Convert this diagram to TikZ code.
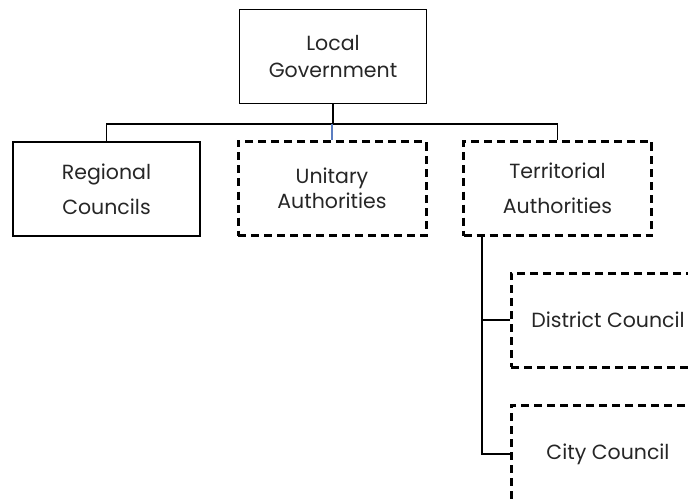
\documentclass[tikz,border=0pt]{standalone}
\usepackage{fontspec}
\setmainfont{Poppins}
\definecolor{txt}{HTML}{262626}
\definecolor{blueline}{HTML}{5B7DC0}
\tikzset{
  solidbox/.style={draw=black, line width=1.6pt, minimum width=187pt, minimum height=94pt, inner sep=0pt, align=center, text=txt},
  dashbox/.style={draw=black, line width=3pt, dash pattern=on 8pt off 5pt, minimum width=188pt, minimum height=94pt, inner sep=0pt, align=center, text=txt},
  conn/.style={draw=black, line width=1.3pt},
}
\begin{document}
\begin{tikzpicture}[x=1pt,y=-1pt]
\useasboundingbox (0,0) rectangle (688,500);
\clip (0,0) rectangle (688,500);
\node[solidbox, font=\fontsize{20.5}{27}\selectfont] (LG) at (333,56.5) {Local\\Government};
\node[solidbox, font=\fontsize{20.5}{35}\selectfont] (RC) at (106.5,189) {Regional\\Councils};
\node[dashbox, font=\fontsize{20.5}{25}\selectfont] (UA) at (332,188.5) {Unitary\\Authorities};
\node[dashbox, font=\fontsize{20.5}{35}\selectfont] (TA) at (557.5,188.5) {Territorial\\Authorities};
\node[dashbox, minimum width=194pt, font=\fontsize{20.5}{25}\selectfont] (DC) at (608,320) {District Council};
\node[dashbox, minimum width=194pt, minimum height=98pt, font=\fontsize{20.5}{25}\selectfont] (CC) at (608,454) {City Council};
\coordinate (bus) at (0,124);
\draw[conn, line width=2.4pt] (LG.south) -- (LG.south |- bus);
\draw[conn] (RC.north) -- (RC.north |- bus) -- (TA.north |- bus) -- (TA.north);
\draw[blueline, line width=1.3pt] (UA.north |- bus) -- (UA.north);
\coordinate (tv) at ([xshift=20pt]TA.south west);
\draw[conn] (tv) |- (DC.west);
\draw[conn] (tv) |- (CC.west);
\end{tikzpicture}
\end{document}
